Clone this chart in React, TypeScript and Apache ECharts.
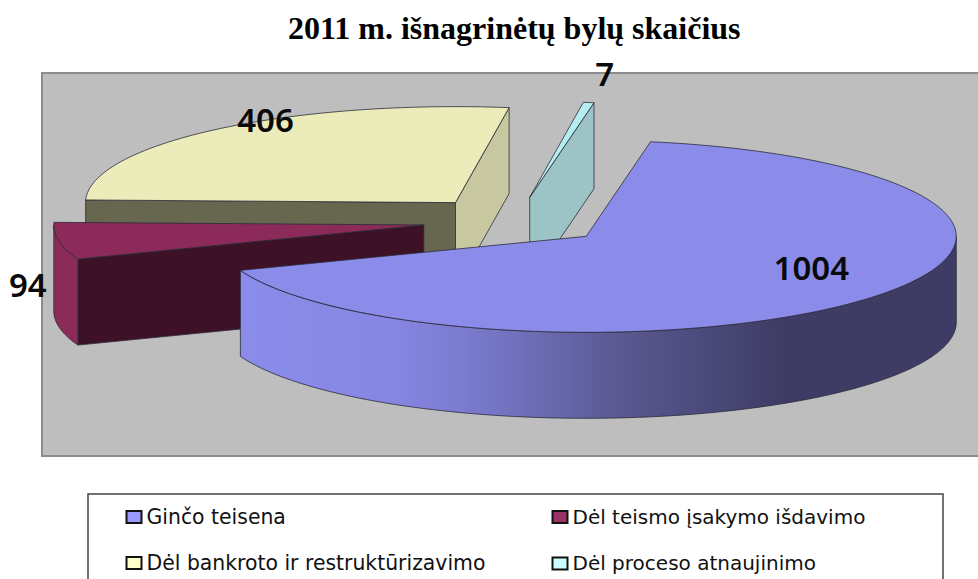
import React, { useEffect, useRef } from "react";
import * as echarts from "echarts";

const titleText = "2011 m. išnagrinėtų bylų skaičius";
const categories = [
  "Ginčo teisena",
  "Dėl teismo įsakymo išdavimo",
  "Dėl bankroto ir restruktūrizavimo",
  "Dėl proceso atnaujinimo",
];
const values = [1004, 94, 406, 7];

// styling, by slice
const topColors = ["#8b8bea", "#8c2b5a", "#ececba", "#b5eef0"];
const legendColors = ["#9999ff", "#993366", "#ffffcc", "#ccffff"];
const startSideColors = ["#6f6fb8", "#3d1226", "#67664e", "#9cc4c6"];
const endSideColors = ["#6f6fb8", "#8c2b5a", "#c8c8a0", "#9cc4c6"];
const labelOffsets = [
  [225, 31],
  [-396, 59],
  [-190, -83],
  [75, -124],
];
const drawOrder = [2, 3, 1, 0];

// pie geometry
const CX = 515;
const CY = 221;
const RX = 370;
const RY = 96;
const DEPTH = 86;
const EXPLODE = 0.25;
const START_DEG = -80;
const FRONT_EDGE = "#2b2b3a";

const total = values.reduce((a, b) => a + b, 0);
const rad = (d: number) => (d * Math.PI) / 180;

function sliceAngles(i: number) {
  const before = values.slice(0, i).reduce((a, b) => a + b, 0);
  const s = START_DEG + (before / total) * 360;
  const e = s + (values[i] / total) * 360;
  return [s, e];
}

function arc(vx: number, vy: number, s: number, e: number, dy = 0) {
  const pts: number[][] = [];
  const n = Math.max(2, Math.ceil((e - s) / 1.5));
  for (let k = 0; k <= n; k++) {
    const t = rad(s + ((e - s) * k) / n);
    pts.push([vx + RX * Math.cos(t), vy + dy + RY * Math.sin(t)]);
  }
  return pts;
}

function renderSlice(i: number) {
  const [s, e] = sliceAngles(i);
  const mid = rad((s + e) / 2);
  const vx = CX + EXPLODE * RX * Math.cos(mid);
  const vy = CY + EXPLODE * RY * Math.sin(mid);
  const line = { stroke: FRONT_EDGE, lineWidth: 0.8 };
  const children: any[] = [];

  const side = (deg: number, fill: string) => {
    const t = rad(deg);
    const px = vx + RX * Math.cos(t);
    const py = vy + RY * Math.sin(t);
    children.push({
      type: "polygon",
      shape: { points: [[vx, vy], [px, py], [px, py + DEPTH], [vx, vy + DEPTH]] },
      style: { fill, ...line },
    });
  };
  // a flat side is seen only when its outward normal faces the viewer
  if (-Math.cos(rad(s)) > 0) side(s, startSideColors[i]);
  if (Math.cos(rad(e)) > 0) side(e, endSideColors[i]);

  const ws = Math.max(s, 0);
  const we = Math.min(e, 180);
  if (we > ws) {
    const fill =
      i === 0
        ? new echarts.graphic.LinearGradient(0, 0, 1, 0, [
            { offset: 0, color: "#8b8bea" },
            { offset: 0.22, color: "#8686e2" },
            { offset: 0.36, color: "#7474c4" },
            { offset: 0.52, color: "#5b5a94" },
            { offset: 0.76, color: "#3e3c64" },
            { offset: 1, color: "#3e3c64" },
          ])
        : topColors[i];
    children.push({
      type: "polygon",
      shape: {
        points: [...arc(vx, vy, ws, we), ...arc(vx, vy, ws, we, DEPTH).reverse()],
      },
      style: { fill, ...line },
    });
  }

  children.push({
    type: "polygon",
    shape: { points: [[vx, vy], ...arc(vx, vy, s, e)] },
    style: { fill: topColors[i], ...line },
  });

  children.push({
    type: "text",
    x: vx + labelOffsets[i][0],
    y: vy + labelOffsets[i][1],
    style: {
      text: String(values[i]),
      fill: "#0a0a0a",
      font: '600 33px "Noto Sans"',
      align: "center",
      verticalAlign: "middle",
    },
  });

  return { type: "group", children };
}

const legendItem = (i: number) => ({
  name: categories[i],
  itemStyle: { color: legendColors[i], borderColor: "#111", borderWidth: 2 },
});

const legendBase = {
  orient: "vertical" as const,
  top: 507,
  padding: 0,
  icon: "rect",
  itemWidth: 15,
  itemHeight: 12,
  itemGap: 26,
  selectedMode: false,
};
const legendFont = { fontFamily: '"DejaVu Sans"', color: "#111" };

export default function App() {
  const ref = useRef<HTMLDivElement>(null);
  useEffect(() => {
    const chart = echarts.init(ref.current!, undefined, { renderer: "svg" });
    chart.setOption({
      animation: false,
      backgroundColor: "#ffffff",
      title: {
        text: titleText,
        left: 288,
        top: 12,
        padding: 0,
        textStyle: {
          fontFamily: '"Liberation Serif"',
          fontWeight: "bold",
          fontSize: 32,
          color: "#000",
        },
      },
      legend: [
        {
          ...legendBase,
          left: 125.5,
          data: [legendItem(0), legendItem(2)],
          textStyle: { ...legendFont, fontSize: 20.4 },
        },
        {
          ...legendBase,
          left: 551.5,
          data: [legendItem(1), legendItem(3)],
          itemGap: 26.4,
          textStyle: { ...legendFont, fontSize: 20 },
        },
      ],
      graphic: [
        {
          type: "rect",
          z: 0,
          silent: true,
          shape: { x: 42, y: 73, width: 950, height: 383 },
          style: { fill: "#bebebe", stroke: "#8c8c8c", lineWidth: 2 },
        },
        {
          type: "rect",
          z: 0,
          silent: true,
          shape: { x: 88, y: 494, width: 855, height: 100 },
          style: { fill: "#ffffff", stroke: "#444", lineWidth: 1.5 },
        },
      ],
      series: drawOrder.map((i) => ({
        type: "custom",
        name: categories[i],
        coordinateSystem: "none",
        silent: true,
        itemStyle: { color: legendColors[i] },
        data: [[values[i]]],
        renderItem: () => renderSlice(i),
      })),
    });
    return () => chart.dispose();
  }, []);
  return (
    <div
      ref={ref}
      style={{ position: "absolute", left: 0, top: 0, width: 978, height: 579, overflow: "hidden" }}
    />
  );
}
